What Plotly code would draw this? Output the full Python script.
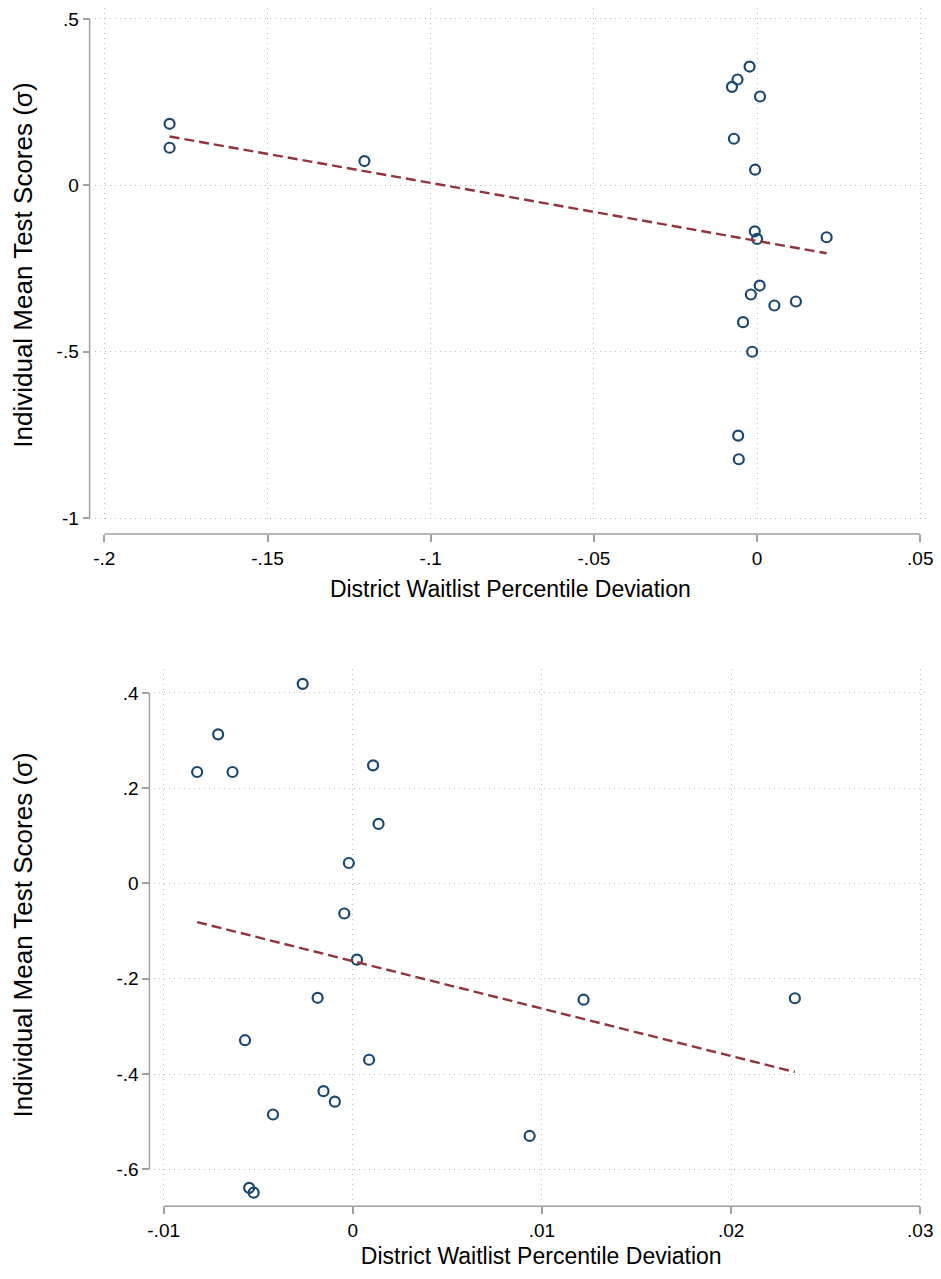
import numpy as np
import plotly.graph_objects as go

# ---- Panel A data (top) ----
top_x = [-0.1800, -0.1800, -0.1203, -0.0023, -0.0060, -0.0077, 0.0009, -0.0071, -0.0006,
         -0.0007, 0.0000, 0.0213, 0.0008, -0.0019, 0.0053, 0.0119, -0.0043, -0.0015,
         -0.0058, -0.0056]
top_y = [0.185, 0.113, 0.073, 0.357, 0.318, 0.296, 0.267, 0.140, 0.047,
         -0.138, -0.161, -0.156, -0.301, -0.328, -0.361, -0.349, -0.411, -0.500,
         -0.752, -0.823]
top_fit = {"intercept": -0.167, "slope": -1.744}
top_xticks = [-0.2, -0.15, -0.1, -0.05, 0, 0.05]
top_xticklabels = ["-.2", "-.15", "-.1", "-.05", "0", ".05"]
top_yticks = [-1, -0.5, 0, 0.5]
top_yticklabels = ["-1", "-.5", "0", ".5"]

# ---- Panel B data (bottom) ----
bot_x = [-0.00265, -0.00712, -0.00823, -0.00636, 0.00107, 0.00136, -0.00021,
         -0.00045, 0.00022, -0.00186, -0.00570, 0.00086, -0.00155, -0.00095,
         -0.00422, -0.00548, -0.00524, 0.01220, 0.02337, 0.00935]
bot_y = [0.419, 0.313, 0.234, 0.234, 0.248, 0.125, 0.043,
         -0.063, -0.160, -0.240, -0.329, -0.370, -0.436, -0.458,
         -0.485, -0.639, -0.649, -0.244, -0.241, -0.530]
bot_fit = {"intercept": -0.163, "slope": -9.96}
bot_xticks = [-0.01, 0, 0.01, 0.02, 0.03]
bot_xticklabels = ["-.01", "0", ".01", ".02", ".03"]
bot_yticks = [-0.6, -0.4, -0.2, 0, 0.2, 0.4]
bot_yticklabels = ["-.6", "-.4", "-.2", "0", ".2", ".4"]

x_title = "District Waitlist Percentile Deviation"
y_title = "Individual Mean Test Scores (σ)"

# page body has an 8px margin
OFF = 8
W, H = 941 - OFF, 1279 - OFF
MARKER = "#1a476f"
FITC = "#90353b"
GRID = "#bdbdbd"
AXC = "#a0a0a0"
FONT = "Liberation Sans, Arial, sans-serif"

fig = go.Figure()

def add_panel(xs, ys, fit, xa, ya):
    fig.add_trace(go.Scatter(x=xs, y=ys, mode="markers", xaxis=xa, yaxis=ya,
                             marker=dict(symbol="circle-open", size=10, color=MARKER,
                                         line=dict(width=2.2, color=MARKER)),
                             showlegend=False, hoverinfo="x+y"))
    lx = np.array([min(xs), max(xs)])
    ly = fit["intercept"] + fit["slope"] * lx
    fig.add_trace(go.Scatter(x=lx, y=ly, mode="lines", xaxis=xa, yaxis=ya,
                             line=dict(color=FITC, width=2.4, dash="10px,5px"),
                             showlegend=False, hoverinfo="skip"))

add_panel(top_x, top_y, top_fit, "x", "y")
add_panel(bot_x, bot_y, bot_fit, "x2", "y2")

def px_x(p):
    return min(1.0, max(0.0, (p - OFF) / W))

def px_y(p):
    return min(1.0, max(0.0, 1 - (p - OFF) / H))

tickfont = dict(family=FONT, size=19, color="black")
xtitlefont = dict(family=FONT, size=23, color="black")
ytitlefont = dict(family=FONT, size=26, color="black")

common = dict(showgrid=True, gridcolor=GRID, griddash="1px,4px", gridwidth=1,
              zeroline=False, showline=False, ticks="outside", ticklen=7,
              tickcolor=AXC, tickwidth=1.5, tickfont=tickfont,
              anchor="free", tickmode="array")

fig.update_layout(
    width=W, height=H, margin=dict(l=0, r=0, t=0, b=0),
    plot_bgcolor="white", paper_bgcolor="white",
    xaxis=dict(common, domain=[px_x(85), px_x(933)], range=[-0.2030, 0.0518],
               tickvals=top_xticks, ticktext=top_xticklabels, position=px_y(537),
               title=dict(text=x_title, font=xtitlefont, standoff=13)),
    yaxis=dict(common, domain=[px_y(525), px_y(8)], range=[-1.012, 0.5329],
               tickvals=top_yticks, ticktext=top_yticklabels, position=px_x(80),
               title=dict(text=y_title, font=ytitlefont, standoff=30)),
    xaxis2=dict(common, domain=[px_x(146), px_x(935)], range=[-0.010493, 0.030415],
                tickvals=bot_xticks, ticktext=bot_xticklabels, position=px_y(1213),
                title=dict(text=x_title, font=xtitlefont, standoff=7)),
    yaxis2=dict(common, domain=[px_y(1207), px_y(673)], range=[-0.6653, 0.4495],
                tickvals=bot_yticks, ticktext=bot_yticklabels, position=px_x(141),
                title=dict(text=y_title, font=ytitlefont, standoff=86)),
)

# axis lines spanning the tick range (Stata style)
shapes = [
    dict(type="line", xref="paper", yref="y", x0=px_x(80), x1=px_x(80),
         y0=min(top_yticks), y1=max(top_yticks), line=dict(color=AXC, width=1.5)),
    dict(type="line", xref="x", yref="paper", x0=min(top_xticks), x1=max(top_xticks),
         y0=px_y(537), y1=px_y(537), line=dict(color=AXC, width=1.5)),
    dict(type="line", xref="paper", yref="y2", x0=px_x(141), x1=px_x(141),
         y0=min(bot_yticks), y1=max(bot_yticks), line=dict(color=AXC, width=1.5)),
    dict(type="line", xref="x2", yref="paper", x0=min(bot_xticks), x1=max(bot_xticks),
         y0=px_y(1213), y1=px_y(1213), line=dict(color=AXC, width=1.5)),
]
fig.update_layout(shapes=shapes)

fig.write_html("out.html")
